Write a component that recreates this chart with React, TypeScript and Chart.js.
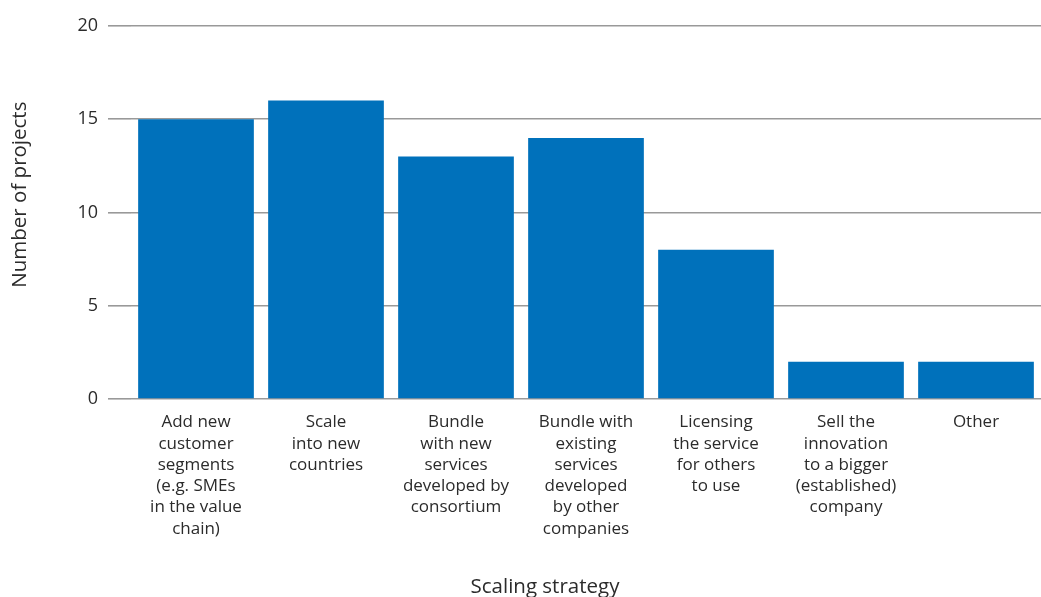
import React, { useEffect, useRef } from "react";
import { Chart, registerables } from "chart.js";

Chart.register(...registerables);

const categories: string[][] = [
  ["Add new", "customer", "segments", "(e.g. SMEs", "in the value", "chain)"],
  ["Scale", "into new", "countries"],
  ["Bundle", "with new", "services", "developed by", "consortium"],
  ["Bundle with", "existing", "services", "developed", "by other", "companies"],
  ["Licensing", "the service", "for others", "to use"],
  ["Sell the", "innovation", "to a bigger", "(established)", "company"],
  ["Other"],
];
const projectCounts: number[] = [15, 16, 13, 14, 8, 2, 2];
const yTicks: number[] = [0, 5, 10, 15, 20];
const xTitle = "Scaling strategy";
const yTitle = "Number of projects";

const FONT = "'Open Sans', 'Noto Sans', sans-serif";
const TEXT = "#2b2b2b";

const titlePlugin = {
  id: "axisTitles",
  afterDraw(chart: any) {
    const { ctx, width, height } = chart;
    ctx.save();
    ctx.fillStyle = TEXT;
    ctx.font = `20.5px ${FONT}`;
    ctx.textAlign = "center";
    ctx.textBaseline = "middle";
    ctx.fillText(xTitle, width * 0.5235, height - 10);
    ctx.translate(20, height * 0.326);
    ctx.rotate(-Math.PI / 2);
    ctx.fillText(yTitle, 0, 0);
    ctx.restore();
  },
};

export default function App() {
  const ref = useRef<HTMLCanvasElement>(null);
  useEffect(() => {
    if (!ref.current) return;
    const chart = new Chart(ref.current, {
      type: "bar",
      data: {
        labels: categories,
        datasets: [
          {
            data: projectCounts,
            backgroundColor: "#0071bb",
            borderWidth: 0,
            categoryPercentage: 1,
            barPercentage: 0.89,
          },
        ],
      },
      options: {
        responsive: false,
        animation: false,
        layout: { padding: { top: 26, right: 0, bottom: 0, left: 0 } },
        plugins: { legend: { display: false }, tooltip: { enabled: false } },
        scales: {
          x: {
            grid: { display: false, drawTicks: false },
            border: { display: false },
            ticks: {
              color: TEXT,
              font: { family: FONT, size: 17, lineHeight: 1.25 },
              padding: 13,
              maxRotation: 0,
              autoSkip: false,
            },
            afterFit(scale: any) {
              scale.height = 198;
            },
          },
          y: {
            min: 0,
            max: 20,
            afterBuildTicks(scale: any) {
              scale.ticks = yTicks.map((v) => ({ value: v }));
            },
            grid: {
              color: "#999999",
              lineWidth: 1.6,
              drawTicks: true,
              tickLength: 23,
              tickColor: "#999999",
              tickWidth: 1.6,
            },
            border: { display: false },
            ticks: {
              color: TEXT,
              font: { family: FONT, size: 18 },
              padding: 10,
            },
            afterFit(scale: any) {
              scale.width = 131;
            },
          },
        },
      },
      plugins: [titlePlugin],
    });
    return () => chart.destroy();
  }, []);
  return (
    <canvas
      ref={ref}
      width={1041}
      height={597}
      style={{ position: "absolute", left: 0, top: 0, display: "block" }}
    />
  );
}
